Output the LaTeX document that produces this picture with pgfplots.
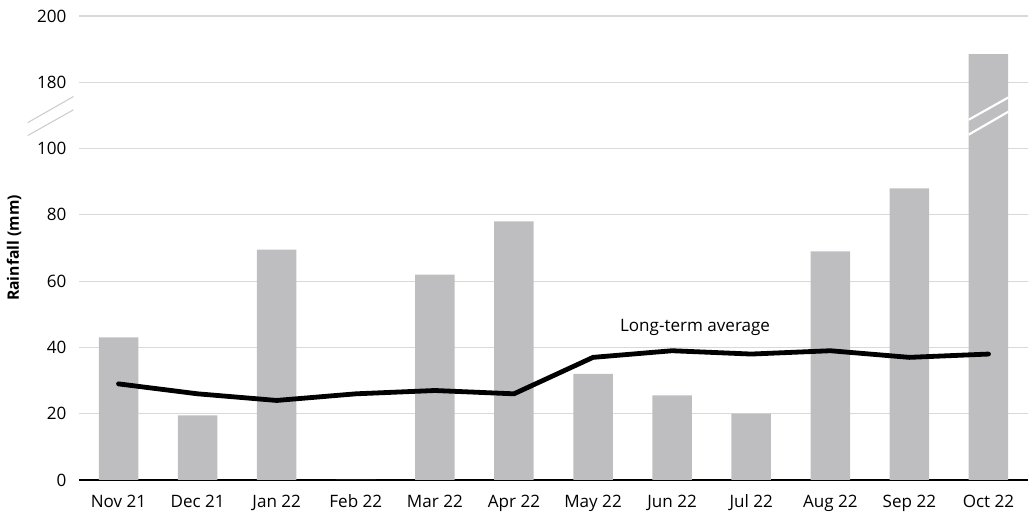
\documentclass[border=0pt]{standalone}
\usepackage{fontspec}
\setmainfont{Open Sans}
\usepackage{pgfplots}
\pgfplotsset{compat=1.18}
\definecolor{bargray}{RGB}{190,190,192}
\definecolor{gridgray}{RGB}{217,217,217}
\definecolor{brk}{RGB}{205,205,205}
\begin{document}
\begin{tikzpicture}
\begin{axis}[
  scale only axis,
  width=711.75pt, height=348pt,
  xmin=-0.5, xmax=11.5,
  ymin=0, ymax=140,
  axis x line*=bottom,
  axis y line*=left,
  y axis line style={draw=none},
  ymajorgrids,
  grid style={gridgray, line width=0.8pt},
  ytick={0,20,40,60,80,100,120,140},
  yticklabels={0,20,40,60,80,100,180,200},
  xtick={0,...,11},
  xticklabels={Nov 21,Dec 21,Jan 22,Feb 22,Mar 22,Apr 22,May 22,Jun 22,Jul 22,Aug 22,Sep 22,Oct 22},
  major tick length=0pt,
  tick label style={font=\fontsize{12.8}{14}\selectfont},
  /pgf/number format/assume math mode=true,
  x axis line style={black, line width=1pt, -},
  xticklabel style={yshift=-7.5pt},
  yticklabel style={xshift=-6pt},
  ylabel={\textbf{Rainfall (mm)}},
  ylabel style={font=\fontsize{11.8}{14}\selectfont, at={(axis description cs:-0.0685,0.5)}, anchor=center},
  clip=false,
]
\addplot[ybar, bar width=0.5, fill=bargray, draw=none] coordinates {
 (0,43) (1,19.5) (2,69.5) (3,0) (4,62) (5,78) (6,32) (7,25.5) (8,20) (9,69) (10,88) (11,128.5)};
\addplot[black, line width=3.6pt, line join=round, line cap=round, mark=none] coordinates {
 (0,29) (1,26) (2,24) (3,26) (4,27) (5,26) (6,37) (7,39) (8,38) (9,39) (10,37) (11,38)};
\draw[brk, line width=0.8pt] (axis cs:-1.15,107.8) -- (axis cs:-0.57,115.7);
\draw[brk, line width=0.8pt] (axis cs:-1.15,103.9) -- (axis cs:-0.57,111.7);
\draw[white, line width=1.6pt] (axis cs:10.75,108.7) -- (axis cs:11.25,115.4);
\draw[white, line width=1.6pt] (axis cs:10.75,104.2) -- (axis cs:11.25,111.1);
\node[font=\fontsize{12.8}{14}\selectfont] at (axis cs:7.29,46) {Long-term average};
\end{axis}
\pgfresetboundingbox
\path ([shift={(-59.25pt,-30pt)}]current axis.south west) rectangle ([shift={(6pt,12pt)}]current axis.north east);
\end{tikzpicture}
\end{document}
